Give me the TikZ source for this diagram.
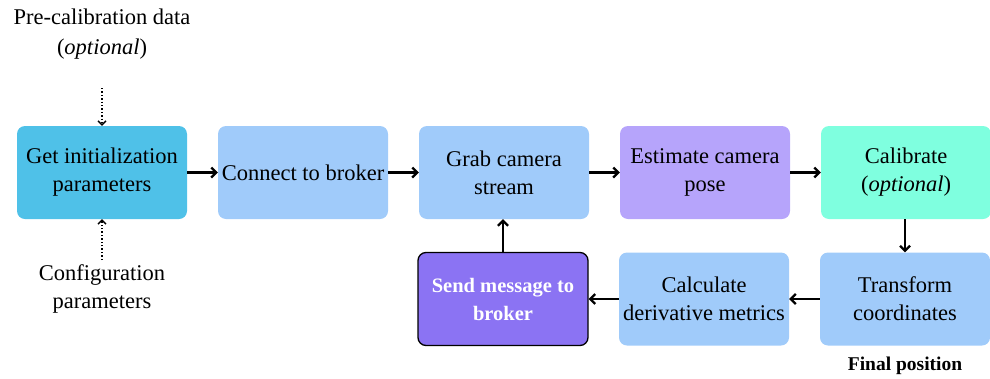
\documentclass[tikz,border=0pt]{standalone}
\usepackage{fontspec}
\setmainfont{Liberation Serif}
\usetikzlibrary{arrows.meta}
\definecolor{initc}{HTML}{4FC1E8}
\definecolor{stepc}{HTML}{A0CBFA}
\definecolor{posec}{HTML}{B6A4FB}
\definecolor{calc}{HTML}{7FFFDF}
\definecolor{sendc}{HTML}{8B73F3}
\tikzset{
  stepbox/.style={rounded corners=8pt, minimum width=170pt, minimum height=93pt,
    align=center, font=\fontsize{22.5}{28}\selectfont, inner sep=1pt, fill=stepc},
  flow/.style={-{Straight Barb[length=5pt,width=10pt]}, line width=2.2pt},
  opt/.style={-{Straight Barb[length=4pt,width=8pt]}, line width=1.4pt, dotted},
  lbl/.style={align=center, font=\fontsize{22.5}{30}\selectfont}
}
\begin{document}
\begin{tikzpicture}[x=1pt,y=-1pt]
\useasboundingbox (0,0) rectangle (990,378);
% top row
\node[stepbox, fill=initc] (init) at (102,172.5) {Get initialization\\parameters};
\node[stepbox] (conn) at (303,172.5) {Connect to broker};
\node[stepbox] (grab) at (504,172.5) {Grab camera\\stream};
\node[stepbox, fill=posec] (pose) at (705,172.5) {Estimate camera\\pose};
\node[stepbox, fill=calc] (cal) at (906,172.5) {Calibrate\\(\textit{optional})};
% bottom row
\node[stepbox, fill=sendc, draw=black, line width=1.3pt, text=white,
      font=\fontsize{20.5}{28}\selectfont\bfseries] (send) at (503,299) {Send message to\\broker};
\node[stepbox] (metr) at (704,299) {Calculate\\derivative metrics};
\node[stepbox] (trans) at (905,299) {Transform\\coordinates};
% inputs and output labels
\node[lbl] (pre) at (102,34) {Pre-calibration data\\(\textit{optional})};
\node[lbl, font=\fontsize{22.5}{28}\selectfont] (cfg) at (102,289) {Configuration\\parameters};
\node[font=\fontsize{19.5}{22}\selectfont\bfseries] (fin) at (905,366) {Final position};
\coordinate (preend) at (102,88);
\coordinate (cfgend) at (102,260);
% connectors
\draw[opt] (preend) -- (init.north);
\draw[opt] (cfgend) -- (init.south);
\draw[flow] (init) -- (conn);
\draw[flow] (conn) -- (grab);
\draw[flow] (grab) -- (pose);
\draw[flow] (pose) -- (cal);
\draw[flow] (cal.south -| trans.north) -- (trans.north);
\draw[flow] (trans) -- (metr);
\draw[flow] (metr) -- (send);
\draw[flow] (send.north) -- (send.north |- grab.south);
\end{tikzpicture}
\end{document}
